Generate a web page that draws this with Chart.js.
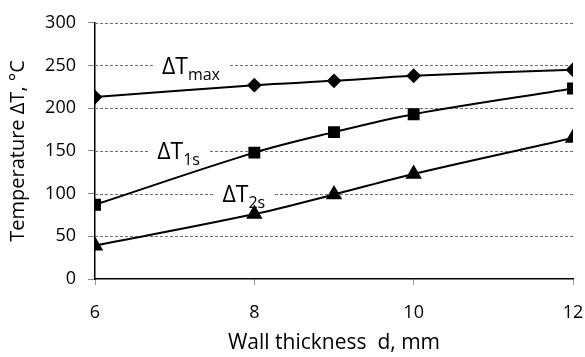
<!DOCTYPE html>
<html>
<head>
<meta charset="utf-8">
<script src="https://cdn.jsdelivr.net/npm/chart.js@4.4.1/dist/chart.umd.min.js"></script>
<style>
  html, body { margin: 0; padding: 0; background: #fff; }
  #wrap { width: 585px; height: 357px; }
</style>
</head>
<body>
<div id="wrap"><canvas id="chart" width="585" height="357"></canvas></div>
<script>
const thickness = [6, 8, 9, 10, 12];
const dTmax = [213, 227, 232, 238, 245];
const dT1s = [87, 148, 172, 193, 223];
const dT2s = [39, 76, 99, 123, 165];
const xTicks = [6, 8, 10, 12];
const yTicks = [0, 50, 100, 150, 200, 250, 300];

const FONT = '"Open Sans", "DejaVu Sans", sans-serif';

function toPoints(values) {
    return thickness.map((x, i) => ({ x: x, y: values[i] }));
}

// dashed horizontal grid + series names (with subscripts on a white box)
const seriesLabels = {
    id: 'seriesLabels',
    beforeDatasetsDraw(chart, args, opts) {
        const ctx = chart.ctx;
        const area = chart.chartArea;
        const xs = chart.scales.x;
        const ys = chart.scales.y;
        ctx.save();

        ctx.strokeStyle = '#707070';
        ctx.lineWidth = 1;
        ctx.setLineDash([3, 2]);
        yTicks.forEach(v => {
            if (v === 0) return;
            const y = Math.round(ys.getPixelForValue(v)) + 0.5;
            ctx.beginPath();
            ctx.moveTo(area.left, y);
            ctx.lineTo(area.right, y);
            ctx.stroke();
        });
        ctx.setLineDash([]);

        opts.items.forEach(item => {
            const px = xs.getPixelForValue(item.x);
            const py = ys.getPixelForValue(item.y);
            ctx.font = '23px ' + FONT;
            const mainW = ctx.measureText(item.main).width;
            ctx.font = '16px ' + FONT;
            const subW = ctx.measureText(item.sub).width;
            const base = py + 8;

            ctx.fillStyle = '#fff';
            ctx.fillRect(px - 9, py - 12, mainW + subW + 18, 26);

            ctx.fillStyle = '#000';
            ctx.textBaseline = 'alphabetic';
            ctx.textAlign = 'left';
            ctx.font = '23px ' + FONT;
            ctx.fillText(item.main, px, base);
            ctx.font = '16px ' + FONT;
            ctx.fillText(item.sub, px + mainW, base + 6);
        });
        ctx.restore();
    }
};

const lineStyle = {
    borderColor: '#000',
    backgroundColor: '#000',
    borderWidth: 2,
    pointBorderColor: '#000',
    pointBackgroundColor: '#000',
    tension: 0.35,
    fill: false
};

new Chart(document.getElementById('chart').getContext('2d'), {
    type: 'line',
    data: {
        datasets: [
            Object.assign({ label: 'ΔTmax', data: toPoints(dTmax), pointStyle: 'rectRot', pointRadius: 6 }, lineStyle),
            Object.assign({ label: 'ΔT1s', data: toPoints(dT1s), pointStyle: 'rect', pointRadius: 7 }, lineStyle),
            Object.assign({ label: 'ΔT2s', data: toPoints(dT2s), pointStyle: 'triangle', pointRadius: 7.5 }, lineStyle)
        ]
    },
    options: {
        responsive: false,
        animation: false,
        layout: { padding: { top: 17, right: 12, bottom: 0, left: 0 } },
        plugins: {
            legend: { display: false },
            tooltip: { enabled: false },
            seriesLabels: {
                items: [
                    { main: 'ΔT', sub: 'max', x: 6.84, y: 250 },
                    { main: 'ΔT', sub: '1s', x: 6.78, y: 150 },
                    { main: 'ΔT', sub: '2s', x: 7.6, y: 100 }
                ]
            }
        },
        scales: {
            x: {
                type: 'linear',
                min: 6,
                max: 12,
                afterBuildTicks: axis => { axis.ticks = xTicks.map(v => ({ value: v })); },
                afterFit: axis => {
                    axis.height = 78;
                    axis.paddingLeft = 0;
                    axis.paddingRight = 0;
                },
                border: { color: '#000', width: 1.5 },
                grid: { drawOnChartArea: false, drawTicks: true, tickLength: 6, color: '#999' },
                ticks: { color: '#000', font: { family: FONT, size: 18 }, padding: 17 },
                title: {
                    display: true,
                    text: 'Wall thickness  d, mm',
                    color: '#000',
                    font: { family: FONT, size: 21 },
                    padding: { top: 0, bottom: 1 }
                }
            },
            y: {
                min: 0,
                max: 300,
                afterBuildTicks: axis => { axis.ticks = yTicks.map(v => ({ value: v })); },
                afterFit: axis => { axis.width = 95; },
                border: { color: '#000', width: 1.5 },
                grid: {
                    drawOnChartArea: false,
                    drawTicks: true,
                    color: '#888',
                    tickLength: 7
                },
                ticks: { color: '#000', font: { family: FONT, size: 18 }, padding: 12 },
                title: {
                    display: true,
                    text: 'Temperature ΔT, °C',
                    color: '#000',
                    font: { family: FONT, size: 20 },
                    padding: { top: 6, bottom: 0 }
                }
            }
        }
    },
    plugins: [seriesLabels]
});
</script>
</body>
</html>
